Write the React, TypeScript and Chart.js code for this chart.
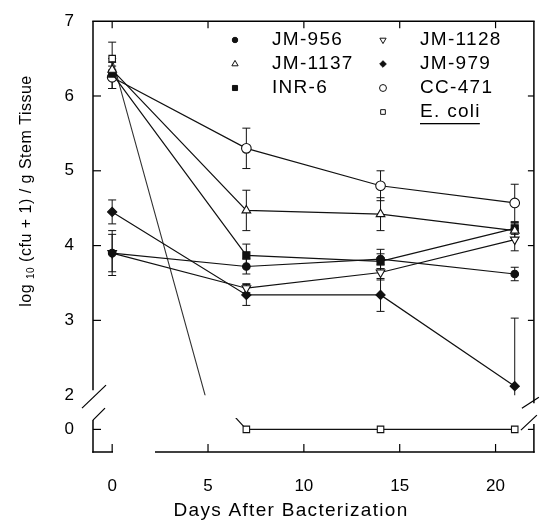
import React, { useEffect, useRef } from 'react';
import { Chart, registerables } from 'chart.js';
import { drawPoint } from 'chart.js/helpers';

Chart.register(...registerables);

// ---------- data ----------
const days = [0, 7, 14, 21];
const xTicks = [0, 5, 10, 15, 20];
const yUpperTicks = [2, 3, 4, 5, 6, 7];
const yLowerTicks = [0];

const seriesNames = ['JM-956', 'JM-1137', 'INR-6', 'JM-1128', 'JM-979', 'CC-471', 'E. coli'];

const jm956 = [3.9, 3.72, 3.82, 3.62];
const jm956Err = [0.25, 0.1, 0.13, 0.09];
const jm1137 = [6.35, 4.47, 4.42, 4.2];
const jm1137Err = [0.1, 0.27, 0.22, 0.1];
const inr6 = [6.3, 3.87, 3.79, 4.23];
const inr6Err = [0.2, 0.15, 0.1, 0.08];
const jm1128 = [3.9, 3.43, 3.64, 4.08];
const jm1128Err = [0.3, 0.06, 0.1, 0.15];
const jm979 = [4.45, 3.34, 3.34, 2.12];
const jm979Err = [0.16, 0.14, 0.22, 0.91];
const cc471 = [6.25, 5.3, 4.8, 4.57];
const cc471Err = [0.15, 0.27, 0.2, 0.25];
const ecoli = [6.5, 0, 0, 0];
const ecoliErr = [0.22, 0, 0, 0];

const FONT = "'Liberation Sans', Arial, Helvetica, sans-serif";
const INK = '#111';

const seriesValues = [jm956, jm1137, inr6, jm1128, jm979, cc471, ecoli];
const seriesErrors = [jm956Err, jm1137Err, inr6Err, jm1128Err, jm979Err, cc471Err, ecoliErr];

// marker styles (not data)
const markerStyles = [
  { style: 'circle', filled: true, radius: 3.8, rotation: 0 },
  { style: 'triangle', filled: false, radius: 5, rotation: 0 },
  { style: 'rect', filled: true, radius: 5, rotation: 0 },
  { style: 'triangle', filled: false, radius: 5, rotation: 180 },
  { style: 'rectRot', filled: true, radius: 4.6, rotation: 0 },
  { style: 'circle', filled: false, radius: 4.8, rotation: 0 },
  { style: 'rect', filled: false, radius: 4.6, rotation: 0 },
];

// legend slot (column, row)
const legendSlots = [
  [0, 0], [0, 1], [0, 2],
  [1, 0], [1, 1], [1, 2], [1, 3],
];

function line(ctx: any, x1: number, y1: number, x2: number, y2: number) {
  ctx.beginPath();
  ctx.moveTo(x1, y1);
  ctx.lineTo(x2, y2);
  ctx.stroke();
}

const framePlugin = {
  id: 'frameAndErrors',
  beforeDatasetsDraw(chart: any) {
    const { ctx, chartArea } = chart;
    const x = chart.scales.x;
    const yU = chart.scales.yU;
    const yL = chart.scales.yL;
    const L = chartArea.left, R = chartArea.right, T = chartArea.top, B = chartArea.bottom;
    const brk = yU.bottom;
    const low = yL.top;
    ctx.save();
    ctx.strokeStyle = '#000';
    ctx.lineWidth = 1.5;
    line(ctx, L - 0.75, T, R + 0.75, T);
    line(ctx, L, T, L, brk - 5);
    line(ctx, L, low + 2, L, B + 0.75);
    line(ctx, R, T, R, brk + 8);
    line(ctx, R, low + 6, R, B + 0.75);
    line(ctx, L - 0.75, B, L + 20, B);
    line(ctx, L + 62, B, R + 0.75, B);
    ctx.lineWidth = 1.2;
    line(ctx, L - 11, brk + 13, L + 13, brk - 10);
    line(ctx, L, low + 2, L + 12, low - 10);
    line(ctx, R - 12, brk + 13, R + 5, brk + 2);
    line(ctx, R - 13, low + 12, R + 3, low - 3);
    for (const v of xTicks) {
      const px = x.getPixelForValue(v);
      line(ctx, px, B, px, B - 8);
      line(ctx, px, T, px, T + 7);
    }
    for (const v of yUpperTicks) {
      if (v <= yU.min || v >= yU.max) continue;
      const py = yU.getPixelForValue(v);
      line(ctx, L, py, L + 8, py);
      line(ctx, R, py, R - 6, py);
    }
    for (const v of yLowerTicks) {
      const py = yL.getPixelForValue(v);
      line(ctx, L, py, L + 8, py);
      line(ctx, R, py, R - 6, py);
    }
    ctx.restore();

    // error bars
    const axes = [yU];
    ctx.save();
    ctx.strokeStyle = INK;
    ctx.lineWidth = 1;
    seriesValues.forEach((vals, si) => {
      const errs = seriesErrors[si];
      for (const yS of axes) {
        ctx.save();
        ctx.beginPath();
        ctx.rect(chartArea.left, yS.top, chartArea.width, yS.height);
        ctx.clip();
        vals.forEach((v, i) => {
          const e = errs[i];
          if (!e) return;
          const px = x.getPixelForValue(days[i]);
          const y1 = yS.getPixelForValue(v + e);
          const y2 = yS.getPixelForValue(v - e);
          line(ctx, px, y1, px, y2);
          line(ctx, px - 4, y1, px + 4, y1);
          line(ctx, px - 4, y2, px + 4, y2);
        });
        ctx.restore();
      }
    });
    ctx.restore();
  },
  afterDraw(chart: any) {
    const { ctx } = chart;
    ctx.save();
    ctx.fillStyle = '#000';
    ctx.textBaseline = 'middle';

    // x title
    ctx.font = `19px ${FONT}`;
    try { ctx.letterSpacing = '1.3px'; } catch (e) {}
    ctx.textAlign = 'center';
    ctx.fillText('Days After Bacterization', 291, 511);

    // legend
    ctx.textAlign = 'left';
    const colX = [[235, 272], [383, 420]];
    const rowY = [40, 64, 88, 112];
    seriesNames.forEach((name, i) => {
      const [c, r] = legendSlots[i];
      const m = markerStyles[i];
      const mx = colX[c][0], tx = colX[c][1], ty = rowY[r];
      ctx.save();
      ctx.fillStyle = m.filled ? INK : '#fff';
      ctx.strokeStyle = INK;
      ctx.lineWidth = 1;
      try { ctx.letterSpacing = '0px'; } catch (e) {}
      drawPoint(ctx, { pointStyle: m.style, rotation: m.rotation, radius: m.radius * 0.72, borderWidth: 1 }, mx, ty);
      ctx.restore();
      ctx.font = `19px ${FONT}`;
      ctx.fillStyle = '#000';
      ctx.fillText(name, tx, ty);
      if (name === 'E. coli') {
        const w = ctx.measureText(name).width;
        ctx.fillRect(tx, ty + 11, w - 1, 1.3);
      }
    });

    // y title with subscript
    try { ctx.letterSpacing = '0.5px'; } catch (e) {}
    ctx.translate(27, 191);
    ctx.rotate(-Math.PI / 2);
    const mainFont = `16px ${FONT}`;
    const subFont = `10px ${FONT}`;
    const p1 = 'log ', p2 = '10', p3 = ' (cfu + 1) / g Stem Tissue';
    ctx.font = mainFont;
    const w1 = ctx.measureText(p1).width;
    ctx.font = subFont;
    const w2 = ctx.measureText(p2).width;
    ctx.font = mainFont;
    const w3 = ctx.measureText(p3).width;
    let cx = -(w1 + w2 + w3) / 2;
    ctx.textAlign = 'left';
    ctx.font = mainFont;
    ctx.fillText(p1, cx, 0);
    cx += w1;
    ctx.font = subFont;
    ctx.fillText(p2, cx, 4);
    cx += w2;
    ctx.font = mainFont;
    ctx.fillText(p3, cx, 0);
    ctx.restore();
  },
};

export default function App() {
  const canvasRef = useRef<HTMLCanvasElement | null>(null);

  useEffect(() => {
    const canvas = canvasRef.current;
    if (!canvas) return;

    const mkPoints = (vals: number[]) => days.map((d, i) => ({ x: d, y: vals[i] }));

    const datasets: any[] = [];
    for (let i = 0; i < 6; i++) {
      const m = markerStyles[i];
      datasets.push({
        label: seriesNames[i],
        data: mkPoints(seriesValues[i]),
        xAxisID: 'x',
        yAxisID: 'yU',
        borderColor: INK,
        borderWidth: 1.2,
        pointStyle: m.style,
        pointRadius: m.radius,
        pointRotation: m.rotation,
        pointBackgroundColor: m.filled ? INK : '#fff',
        pointBorderColor: INK,
        pointBorderWidth: 1.1,
        tension: 0,
      });
    }
    const em = markerStyles[6];
    // E. coli upper part (clipped to upper panel)
    datasets.push({
      label: seriesNames[6],
      data: mkPoints(ecoli),
      xAxisID: 'x',
      yAxisID: 'yU',
      borderColor: '#333',
      borderWidth: 1.1,
      pointStyle: em.style,
      pointRadius: [em.radius, 0, 0, 0],
      pointBackgroundColor: '#fff',
      pointBorderColor: INK,
      pointBorderWidth: 1.1,
      tension: 0,
    });
    // E. coli lower part (clipped to lower panel)
    datasets.push({
      label: seriesNames[6] + ' ',
      data: mkPoints(ecoli),
      xAxisID: 'x',
      yAxisID: 'yL',
      borderColor: INK,
      borderWidth: 1.2,
      pointStyle: em.style,
      pointRadius: [0, em.radius, em.radius, em.radius],
      pointBackgroundColor: '#fff',
      pointBorderColor: INK,
      pointBorderWidth: 1.1,
      tension: 0,
    });

    const tickFont = { family: FONT, size: 17 };
    const hidden = { display: false };

    const chart = new Chart(canvas, {
      type: 'line',
      data: { datasets },
      plugins: [framePlugin],
      options: {
        animation: false,
        responsive: false,
        devicePixelRatio: 1,
        layout: { padding: { top: 20, right: 5, left: 0, bottom: 0 } },
        plugins: { legend: { display: false }, tooltip: { enabled: false } },
        scales: {
          x: {
            type: 'linear',
            position: 'bottom',
            min: -1,
            max: 22,
            grid: hidden,
            border: hidden,
            ticks: { font: tickFont, color: '#000', padding: 16, maxRotation: 0 },
            afterBuildTicks: (s: any) => { s.ticks = xTicks.map((v) => ({ value: v })); },
            afterFit: (s: any) => { s.height = 74; },
          },
          yL: {
            type: 'linear',
            position: 'left',
            stack: 'y',
            stackWeight: 34,
            weight: 1,
            min: -1,
            max: 0.5,
            grid: hidden,
            border: hidden,
            ticks: { font: tickFont, color: '#000', padding: 11 },
            afterBuildTicks: (s: any) => { s.ticks = yLowerTicks.map((v) => ({ value: v })); },
            afterFit: (s: any) => { s.width = 93; },
          },
          yG: {
            type: 'linear',
            position: 'left',
            stack: 'y',
            stackWeight: 23,
            weight: 2,
            min: 0,
            max: 1,
            grid: hidden,
            border: hidden,
            ticks: { display: false },
            afterFit: (s: any) => { s.width = 93; },
          },
          yU: {
            type: 'linear',
            position: 'left',
            stack: 'y',
            stackWeight: 375,
            weight: 3,
            min: 2,
            max: 7,
            grid: hidden,
            border: hidden,
            ticks: { font: tickFont, color: '#000', padding: 11 },
            afterBuildTicks: (s: any) => { s.ticks = yUpperTicks.map((v) => ({ value: v })); },
            afterFit: (s: any) => { s.width = 93; },
          },
        },
      } as any,
    });

    return () => chart.destroy();
  }, []);

  return (
    <div style={{ position: 'absolute', left: 0, top: 0, width: 540, height: 526, background: '#fff' }}>
      <canvas ref={canvasRef} width={540} height={526} style={{ display: 'block' }} />
    </div>
  );
}
